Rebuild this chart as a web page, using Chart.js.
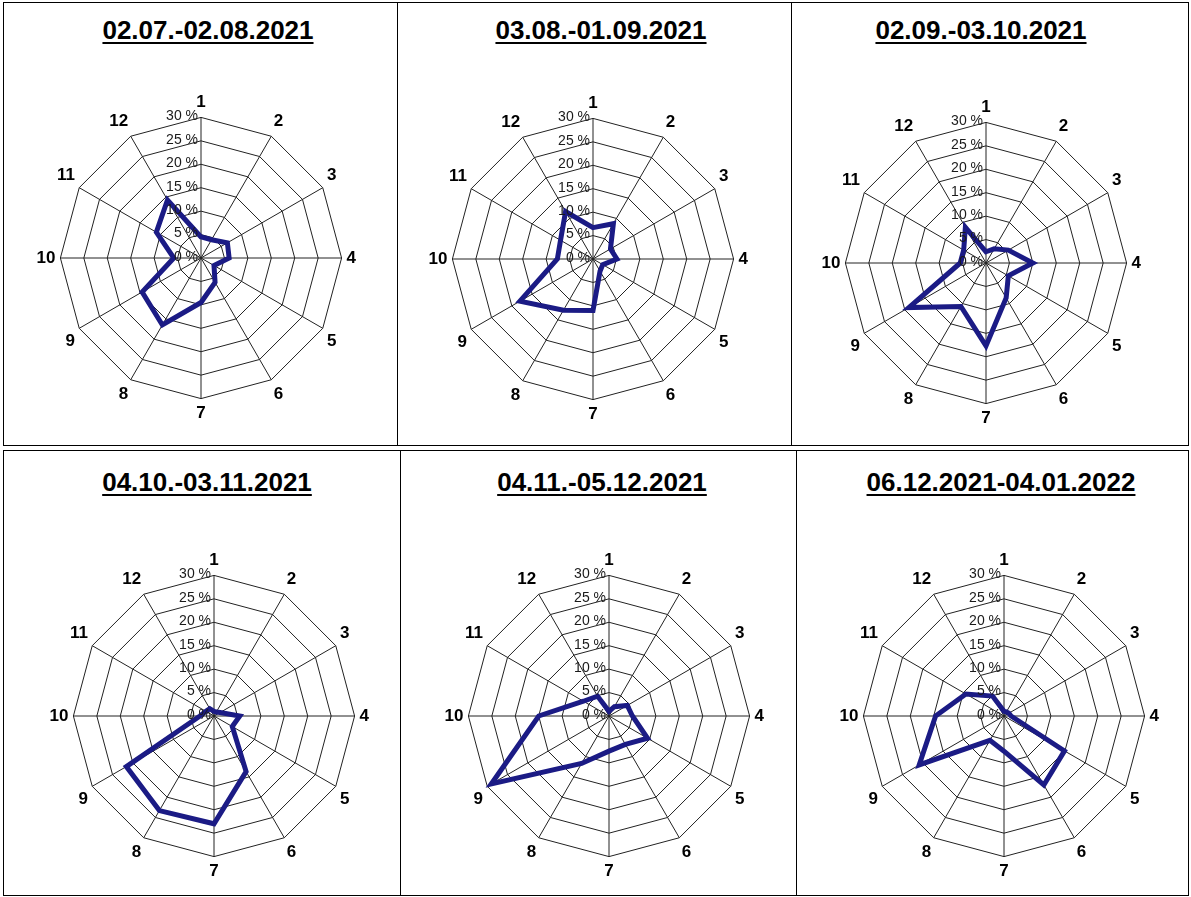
<!DOCTYPE html>
<html>
<head>
<meta charset="utf-8">
<script src="https://cdn.jsdelivr.net/npm/chart.js@4.4.1/dist/chart.umd.min.js"></script>
<style>
  body { margin: 0; background: #fff; font-family: "Liberation Sans", Arial, sans-serif; }
  #pagina { position: relative; width: 1191px; height: 897px; overflow: hidden; }
  .celda { position: absolute; border: 1.5px solid #000; box-sizing: border-box; }
  .titulo { position: absolute; width: 400px; text-align: center; font-weight: bold; font-size: 26px;
            text-decoration: underline; text-decoration-thickness: 2px; text-underline-offset: 3px; }
  canvas { position: absolute; }
</style>
</head>
<body>
<div id="pagina"></div>
<script>
// Sectores del gráfico radial (1 a 12)
const sectores = ['1', '2', '3', '4', '5', '6', '7', '8', '9', '10', '11', '12']

// Periodos (títulos de cada gráfico)
const periodos = ['02.07.-02.08.2021', '03.08.-01.09.2021', '02.09.-03.10.2021',
                  '04.10.-03.11.2021', '04.11.-05.12.2021', '06.12.2021-04.01.2022']

// Porcentaje por sector en cada periodo
const valores1 = [4.5, 4.5, 6.5, 6, 3.2, 6, 9.5, 16.5, 14.5, 5.8, 11, 14.3]
const valores2 = [6.7, 8.7, 4.3, 5.1, 2.4, 3, 11, 12.6, 18, 7.6, 8, 11.7]
const valores3 = [2.4, 3.5, 5.5, 10, 5.5, 8.6, 17.7, 10.7, 19, 5.5, 5.5, 8.8]
const valores4 = [1, 1, 1.5, 5.5, 4.5, 13.7, 23, 23.3, 21.6, 3, 2, 1.8]
const valores5 = [1, 2.3, 4.5, 5, 9.5, 7, 7.5, 11.7, 29, 15, 6.3, 4.9]
const valores6 = [1, 1, 1.2, 1.5, 14.9, 17, 7.5, 6, 20.9, 14.6, 9.4, 4.9]

// Marcas del eje radial
const escala = [0, 5, 10, 15, 20, 25, 30]

const series = [valores1, valores2, valores3, valores4, valores5, valores6]

// Celdas con borde: [left, top, width, height]
const celdas = [
  [3, 2, 395, 444], [397, 2, 395, 444], [791, 2, 398, 444],
  [3, 450, 398, 446], [400, 450, 397, 446], [796, 450, 393, 446]
]
// Posición del canvas (centro aproximado, Chart.js corre el centro unos px por las etiquetas)
const centros = [[197, 258], [589, 259], [982, 263], [210, 716], [605, 716], [1000, 716]]
// Centro de cada título [x, top]
const titulos = [[208, 15], [601, 15], [981, 15], [207, 467], [602, 467], [1001, 467]]
const LADO = 332

// Plugin: etiquetas "x %" a la izquierda del eje 1
const etiquetasEscala = {
  id: 'etiquetasEscala',
  afterDraw(chart) {
    const r = chart.scales.r
    const ctx = chart.ctx
    ctx.save()
    ctx.font = '14px "Liberation Sans", Arial'
    ctx.fillStyle = '#1a1a1a'
    ctx.textAlign = 'right'
    ctx.textBaseline = 'middle'
    for (let v of escala) {
      const d = r.getDistanceFromCenterForValue(v)
      ctx.fillText(v + ' %', r.xCenter - 3, r.yCenter - d - 1)
    }
    ctx.restore()
  }
}

const pagina = document.getElementById('pagina')

series.forEach((valores, i) => {
  const [l, t, w, h] = celdas[i]
  const celda = document.createElement('div')
  celda.className = 'celda'
  celda.style.cssText = `left:${l}px;top:${t}px;width:${w}px;height:${h}px`
  pagina.appendChild(celda)

  const titulo = document.createElement('div')
  titulo.className = 'titulo'
  titulo.textContent = periodos[i]
  titulo.style.left = (titulos[i][0] - 200) + 'px'
  titulo.style.top = titulos[i][1] + 'px'
  pagina.appendChild(titulo)

  const canvas = document.createElement('canvas')
  canvas.width = LADO
  canvas.height = LADO
  canvas.style.left = (centros[i][0] - LADO / 2) + 'px'
  canvas.style.top = (centros[i][1] - LADO / 2) + 'px'
  pagina.appendChild(canvas)

  new Chart(canvas, {
    type: 'radar',
    data: {
      labels: sectores,
      datasets: [{
        data: valores,
        borderColor: '#1b1b85',
        borderWidth: 5,
        borderJoinStyle: 'miter',
        fill: false,
        pointRadius: 0,
        tension: 0
      }]
    },
    options: {
      responsive: false,
      animation: false,
      plugins: { legend: { display: false }, tooltip: { enabled: false } },
      scales: {
        r: {
          min: 0,
          max: 30,
          ticks: { stepSize: 5, display: false },
          grid: { color: '#222', lineWidth: 1 },
          angleLines: { color: '#222', lineWidth: 1 },
          pointLabels: {
            color: '#000',
            padding: 5,
            font: { size: 17, weight: 'bold', family: '"Liberation Sans", Arial' }
          }
        }
      }
    },
    plugins: [etiquetasEscala]
  })
})
</script>
</body>
</html>
